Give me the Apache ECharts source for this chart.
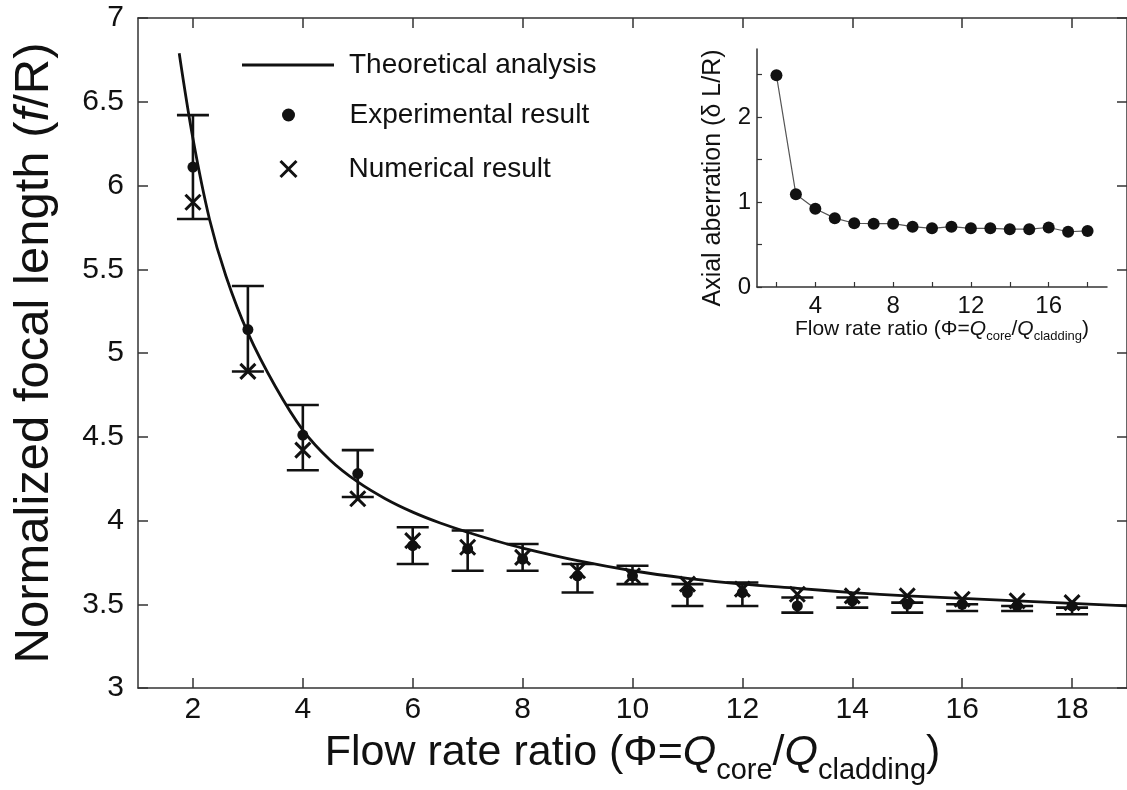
<!DOCTYPE html>
<html>
<head>
<meta charset="utf-8">
<script src="https://cdn.jsdelivr.net/npm/echarts@6/dist/echarts.min.js"></script>
<style>html,body{margin:0;padding:0;background:#fff;}#c{width:1127px;height:790px;}</style>
</head>
<body>
<div id="c"></div>
<script>
// ---- data ----
const flowRatio = [2,3,4,5,6,7,8,9,10,11,12,13,14,15,16,17,18];
const experimental = [6.11,5.14,4.51,4.28,3.85,3.83,3.77,3.67,3.67,3.57,3.57,3.49,3.52,3.50,3.50,3.49,3.49];
const numerical = [5.90,4.89,4.42,4.13,3.88,3.84,3.78,3.70,3.67,3.62,3.59,3.56,3.55,3.55,3.53,3.52,3.51];
const errLow  = [5.80,4.89,4.30,4.14,3.74,3.70,3.70,3.57,3.62,3.49,3.49,3.45,3.48,3.45,3.46,3.46,3.44];
const errHigh = [6.42,5.40,4.69,4.42,3.96,3.94,3.86,3.74,3.73,3.62,3.63,3.54,3.54,3.51,3.50,3.49,3.48];
const theoryX = [1.75,2,2.3,2.6,3,3.5,4,4.5,5,5.5,6,6.5,7,7.5,8,9,10,11,12,13,14,15,16,17,18,19];
const theoryY = [6.79,6.28,5.80,5.46,5.12,4.80,4.54,4.36,4.23,4.13,4.05,3.985,3.93,3.88,3.835,3.76,3.70,3.655,3.62,3.595,3.57,3.55,3.535,3.52,3.505,3.49];
const aberration = [2.49,1.09,0.92,0.81,0.75,0.745,0.745,0.71,0.69,0.71,0.69,0.69,0.68,0.68,0.70,0.65,0.66];
const mainXTicks = [2,4,6,8,10,12,14,16,18];
const insetXTicks = [2,4,6,8,10,12,14,16,18];
const insetXLabels = [4,8,12,16];
const insetYTicks = [0,0.5,1,1.5,2,2.5];
const insetYLabels = [0,1,2];

const FONT = 'Liberation Sans, Arial, Helvetica, sans-serif';
const INK = '#111';
const AX = '#333';

const zip = (a,b) => a.map((v,i)=>[v,b[i]]);
const errData = flowRatio.map((x,i)=>[x, errLow[i], errHigh[i]]);

const xMark = 'path://M0,0L10,10M10,0L0,10';
const legendText = (pl) => ({fontSize:28, color:INK, fontFamily:FONT, padding:[0,0,0,pl]});

const chart = echarts.init(document.getElementById('c'), null, {renderer:'canvas'});
chart.setOption({
  animation: false,
  backgroundColor: '#fff',
  grid: [
    {left: 138, top: 18, width: 990, height: 672},
    {left: 757, top: 49, width: 350, height: 238}
  ],
  legend: [
    {data:[{name:'Theoretical analysis', icon:'rect'}], left: 237, top: 46, padding:5,
     itemWidth: 92, itemHeight: 3, selectedMode:false,
     itemStyle:{color:INK, borderWidth:0},
     textStyle: legendText(10)},
    {data:[{name:'Experimental result', icon:'circle'}], left: 277, top: 96, padding:5,
     itemWidth: 92, itemHeight: 13, selectedMode:false,
     itemStyle:{color:INK, opacity:1, borderWidth:0},
     textStyle: legendText(10)},
    {data:[{name:'Numerical result', icon:xMark}], left: 273, top: 150, padding:5,
     itemWidth: 92, itemHeight: 16, selectedMode:false,
     itemStyle:{color:'none', borderColor:INK, borderWidth:3, opacity:1},
     textStyle: legendText(9)}
  ],
  xAxis: [
    {type:'value', gridIndex:0, min:1, max:19, position:'bottom',
     name:'{r|Flow rate ratio (Φ=}{i|Q}{s|core}{r|/}{i|Q}{s|cladding}{r|)}',
     nameLocation:'middle', nameGap:34,
     nameTextStyle:{rich:{
       r:{fontSize:43, fontFamily:FONT, color:INK},
       i:{fontSize:43, fontFamily:FONT, color:INK, fontStyle:'italic'},
       s:{fontSize:29, fontFamily:FONT, color:INK, padding:[34,0,0,0]}
     }},
     axisLine:{show:true, lineStyle:{color:AX, width:1.5}},
     axisTick:{show:true, inside:true, length:10, customValues: mainXTicks, lineStyle:{color:AX, width:1.5}},
     axisLabel:{fontSize:30, color:INK, fontFamily:FONT, margin:7, customValues: mainXTicks},
     splitLine:{show:false}},
    {type:'value', gridIndex:0, min:1, max:19, position:'top',
     axisLine:{show:true, lineStyle:{color:AX, width:1.5}},
     axisTick:{show:true, inside:true, length:10, customValues: mainXTicks, lineStyle:{color:AX, width:1.5}},
     axisLabel:{show:false}, splitLine:{show:false}},
    {type:'value', gridIndex:1, min:1, max:19, position:'bottom',
     name:'{r|Flow rate ratio (Φ=}{i|Q}{s|core}{r|/}{i|Q}{s|cladding}{r|)}',
     nameLocation:'middle', nameGap:28,
     nameTextStyle:{padding:[0,0,0,20], rich:{
       r:{fontSize:21, fontFamily:FONT, color:INK},
       i:{fontSize:21, fontFamily:FONT, color:INK, fontStyle:'italic'},
       s:{fontSize:13, fontFamily:FONT, color:INK, padding:[14,0,0,0]}
     }},
     axisLine:{show:true, lineStyle:{color:AX, width:1.5}},
     axisTick:{show:true, inside:true, length:5, customValues: insetXTicks, lineStyle:{color:AX, width:1.2}},
     axisLabel:{fontSize:24, color:INK, fontFamily:FONT, margin:7, customValues: insetXLabels},
     splitLine:{show:false}}
  ],
  yAxis: [
    {type:'value', gridIndex:0, min:3, max:7, interval:0.5, position:'left',
     name:'{r|Normalized focal length (}{i|f}{r|/R)}',
     nameLocation:'middle', nameGap:79,
     nameTextStyle:{rich:{
       r:{fontSize:49, fontFamily:FONT, color:INK},
       i:{fontSize:49, fontFamily:FONT, color:INK, fontStyle:'italic'}
     }},
     axisLine:{show:true, lineStyle:{color:AX, width:1.5}},
     axisTick:{show:true, inside:true, length:10, lineStyle:{color:AX, width:1.5}},
     axisLabel:{fontSize:30, color:INK, fontFamily:FONT, margin:14},
     splitLine:{show:false}},
    {type:'value', gridIndex:0, min:3, max:7, interval:0.5, position:'right',
     axisLine:{show:true, lineStyle:{color:AX, width:1.5}},
     axisTick:{show:true, inside:true, length:10, lineStyle:{color:AX, width:1.5}},
     axisLabel:{show:false}, splitLine:{show:false}},
    {type:'value', gridIndex:1, min:0, max:2.8, position:'left',
     name:'Axial aberration (δ L/R)',
     nameLocation:'middle', nameGap:31,
     nameTextStyle:{fontSize:25, fontFamily:FONT, color:INK, padding:[0,20,0,0]},
     axisLine:{show:true, lineStyle:{color:AX, width:1.5}},
     axisTick:{show:true, inside:true, length:5, customValues: insetYTicks, lineStyle:{color:AX, width:1.2}},
     axisLabel:{fontSize:24, color:INK, fontFamily:FONT, margin:6, customValues: insetYLabels},
     splitLine:{show:false}}
  ],
  series: [
    {name:'Theoretical analysis', type:'line', xAxisIndex:0, yAxisIndex:0,
     data: zip(theoryX, theoryY), smooth:0.35, showSymbol:false, symbol:'none',
     lineStyle:{color:INK, width:2.8}, itemStyle:{color:INK}, z:3},
    {name:'errorbars', type:'custom', xAxisIndex:0, yAxisIndex:0, data: errData,
     encode:{x:0, y:[1,2]}, z:4,
     renderItem: function(params, api){
       const x = api.value(0);
       const pLo = api.coord([x, api.value(1)]);
       const pHi = api.coord([x, api.value(2)]);
       const hw = 16;
       const st = {stroke: INK, lineWidth: 2.6};
       return {type:'group', children:[
         {type:'line', shape:{x1:pLo[0], y1:pLo[1], x2:pHi[0], y2:pHi[1]}, style:st},
         {type:'line', shape:{x1:pLo[0]-hw, y1:pLo[1], x2:pLo[0]+hw, y2:pLo[1]}, style:st},
         {type:'line', shape:{x1:pHi[0]-hw, y1:pHi[1], x2:pHi[0]+hw, y2:pHi[1]}, style:st}
       ]};
     }},
    {name:'Experimental result', type:'scatter', xAxisIndex:0, yAxisIndex:0,
     data: zip(flowRatio, experimental), symbol:'circle', symbolSize:11,
     itemStyle:{color:INK, opacity:1}, z:5},
    {name:'Numerical result', type:'scatter', xAxisIndex:0, yAxisIndex:0,
     data: zip(flowRatio, numerical), symbol:xMark, symbolSize:15,
     itemStyle:{color:'none', borderColor:INK, borderWidth:3, opacity:1}, z:5},
    {name:'aberration', type:'line', xAxisIndex:2, yAxisIndex:2,
     data: zip(flowRatio, aberration), symbol:'circle', symbolSize:12, showSymbol:true,
     lineStyle:{color:'#555', width:1.2}, itemStyle:{color:INK}, z:5}
  ]
});
</script>
</body>
</html>
